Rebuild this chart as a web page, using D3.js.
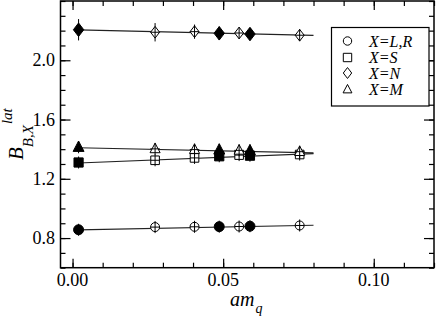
<!DOCTYPE html>
<html><head><meta charset="utf-8">
<script src="https://cdn.jsdelivr.net/npm/d3@7"></script>
<style>body{margin:0;background:#fff}svg{display:block}
svg text, svg tspan{font-family:"Liberation Serif","DejaVu Serif",serif !important}</style>
</head><body>
<script>
const xq = [0.002, 0.0274, 0.0405, 0.0487, 0.0553, 0.0589, 0.0754];
const filled = [true, false, false, true, false, true, false];
const yLR = [0.856, 0.874, 0.876, 0.877, 0.878, 0.880, 0.885];
const eLR = [0.015, 0.012, 0.010, 0.010, 0.010, 0.010, 0.010];
const yS = [1.310, 1.325, 1.341, 1.352, 1.360, 1.356, 1.364];
const eS = [0.015, 0.014, 0.014, 0.014, 0.014, 0.014, 0.014];
const yN = [2.206, 2.189, 2.193, 2.182, 2.184, 2.177, 2.169];
const eN = [0.072, 0.062, 0.048, 0.045, 0.034, 0.034, 0.026];
const yM = [1.413, 1.402, 1.397, 1.395, 1.392, 1.390, 1.383];
const eM = [0.015, 0.014, 0.014, 0.014, 0.014, 0.014, 0.014];
const fitX = [0.002, 0.08];
const fitLR = [0.855, 0.887];
const fitS = [1.307, 1.370];
const fitN = [2.205, 2.168];
const fitM = [1.410, 1.375];
const legendLabels = ["X=L,R", "X=S", "X=N", "X=M"];
const xTicks = [0, 0.05, 0.10];
const xTickLabels = ["0.00", "0.05", "0.10"];
const yTicks = [0.8, 1.2, 1.6, 2.0];
const yTickLabels = ["0.8", "1.2", "1.6", "2.0"];

const FONT = '"Liberation Serif", "DejaVu Serif", serif';
const W = 436, H = 323;
const L = 60.5, R = 434, T = 1, B = 267.7;
const x = d3.scaleLinear([-0.004, 0.12], [L, R]);
const y = d3.scaleLinear([0.6, 2.4], [B, T]);

const svg = d3.select("body").append("svg").attr("width", W).attr("height", H)
  .style("font-family", FONT);

const xMinor = d3.range(0, 0.1201, 0.01).map(v => +v.toFixed(3));
const yMinor = d3.range(0.6, 2.401, 0.1).map(v => +v.toFixed(2));
function axis(gen, scale, vals, size, tr) {
  const g = svg.append("g").attr("transform", tr)
    .call(gen(scale).tickValues(vals).tickSize(size).tickFormat(""));
  g.select(".domain").remove();
  g.selectAll("text").remove();
  g.selectAll("line").attr("stroke", "#000").attr("stroke-width", 1.2);
}
axis(d3.axisBottom, x, xMinor, -5, `translate(0,${B})`);
axis(d3.axisBottom, x, xTicks, -9, `translate(0,${B})`);
axis(d3.axisTop, x, xMinor, -5, `translate(0,${T})`);
axis(d3.axisTop, x, xTicks, -9, `translate(0,${T})`);
axis(d3.axisLeft, y, yMinor, -5, `translate(${L},0)`);
axis(d3.axisLeft, y, yTicks, -10, `translate(${L},0)`);
axis(d3.axisRight, y, yMinor, -5, `translate(${R},0)`);
axis(d3.axisRight, y, yTicks, -10, `translate(${R},0)`);

svg.append("rect").attr("x", L).attr("y", T).attr("width", R - L).attr("height", B - T)
  .attr("fill", "none").attr("stroke", "#000").attr("stroke-width", 1.5);

svg.selectAll(".xl").data(xTicks).enter().append("text")
  .attr("x", d => x(d)).attr("y", 286).attr("text-anchor", "middle")
  .style("font-family", FONT).attr("font-size", 18).text((d, i) => xTickLabels[i]);
svg.selectAll(".yl").data(yTicks).enter().append("text")
  .attr("x", 55).attr("y", d => y(d) + 6).attr("text-anchor", "end")
  .style("font-family", FONT).attr("font-size", 18).text((d, i) => yTickLabels[i]);

const xt = svg.append("text").attr("x", 230).attr("y", 306).style("font-family", FONT)
  .attr("font-size", 20).attr("font-style", "italic");
xt.append("tspan").text("am");
xt.append("tspan").attr("font-size", 14).attr("dy", 7).attr("dx", 1).text("q");

const yt = svg.append("text").attr("transform", "translate(23,160) rotate(-90)")
  .style("font-family", FONT).attr("font-size", 21).attr("font-style", "italic");
yt.append("tspan").text("B");
yt.append("tspan").attr("font-size", 15).attr("dy", 10).text("B,X");
yt.append("tspan").attr("font-size", 15).attr("dy", -21).attr("dx", 1).text("lat");

function sym(type, s) {
  if (type === "circle") return `M${-s},0A${s},${s} 0 1,0 ${s},0A${s},${s} 0 1,0 ${-s},0Z`;
  if (type === "square") return `M${-s},${-s}H${s}V${s}H${-s}Z`;
  if (type === "diamond") return `M0,${-s * 1.3}L${s},0L0,${s * 1.3}L${-s},0Z`;
  if (type === "triangle") return `M0,${-s * 1.2}L${s * 1.05},${s * 0.8}L${-s * 1.05},${s * 0.8}Z`;
}

const series = [
  {type: "circle", ys: yLR, es: eLR, fit: fitLR, s: 5, so: 4.5},
  {type: "square", ys: yS, es: eS, fit: fitS, s: 4.6, so: 4.3},
  {type: "diamond", ys: yN, es: eN, fit: fitN, s: 5.2, so: 4.5},
  {type: "triangle", ys: yM, es: eM, fit: fitM, s: 5.2, so: 4.8}
];

const line = d3.line().x(d => x(d[0])).y(d => y(d[1]));
series.forEach(se => {
  svg.append("path").attr("d", line(fitX.map((v, i) => [v, se.fit[i]])))
    .attr("stroke", "#222").attr("stroke-width", 1.1).attr("fill", "none");
});
series.forEach(se => {
  const g = svg.append("g");
  xq.forEach((xv, i) => {
    const cx = x(xv), cy = y(se.ys[i]);
    g.append("path").attr("transform", `translate(${cx},${cy})`)
      .attr("d", sym(se.type, filled[i] ? se.s : se.so))
      .attr("fill", filled[i] ? "#000" : "#fff").attr("stroke", "#000").attr("stroke-width", 1);
    const e = Math.max(y(se.ys[i] - se.es[i]) - cy, 6);
    g.append("line").attr("x1", cx).attr("x2", cx).attr("y1", cy - e).attr("y2", cy + e)
      .attr("stroke", "#000").attr("stroke-width", 1);
    if (!filled[i]) {
      g.append("line").attr("x1", cx - se.so).attr("x2", cx + se.so).attr("y1", cy).attr("y2", cy)
        .attr("stroke", "#000").attr("stroke-width", 1);
    }
  });
});

svg.append("rect").attr("x", 331.5).attr("y", 27.5).attr("width", 97.5).attr("height", 78.5)
  .attr("fill", "#fff").attr("stroke", "#000").attr("stroke-width", 1.2);
const legY = [41, 57.5, 73, 89.5];
series.forEach((se, i) => {
  svg.append("path").attr("transform", `translate(347.5,${legY[i]})`)
    .attr("d", sym(se.type, 4.2)).attr("fill", "none").attr("stroke", "#000").attr("stroke-width", 1);
  svg.append("text").attr("x", 369).attr("y", legY[i] + 5.5).style("font-family", FONT)
    .attr("font-size", 16).attr("font-style", "italic").text(legendLabels[i]);
});
</script>
</body></html>
